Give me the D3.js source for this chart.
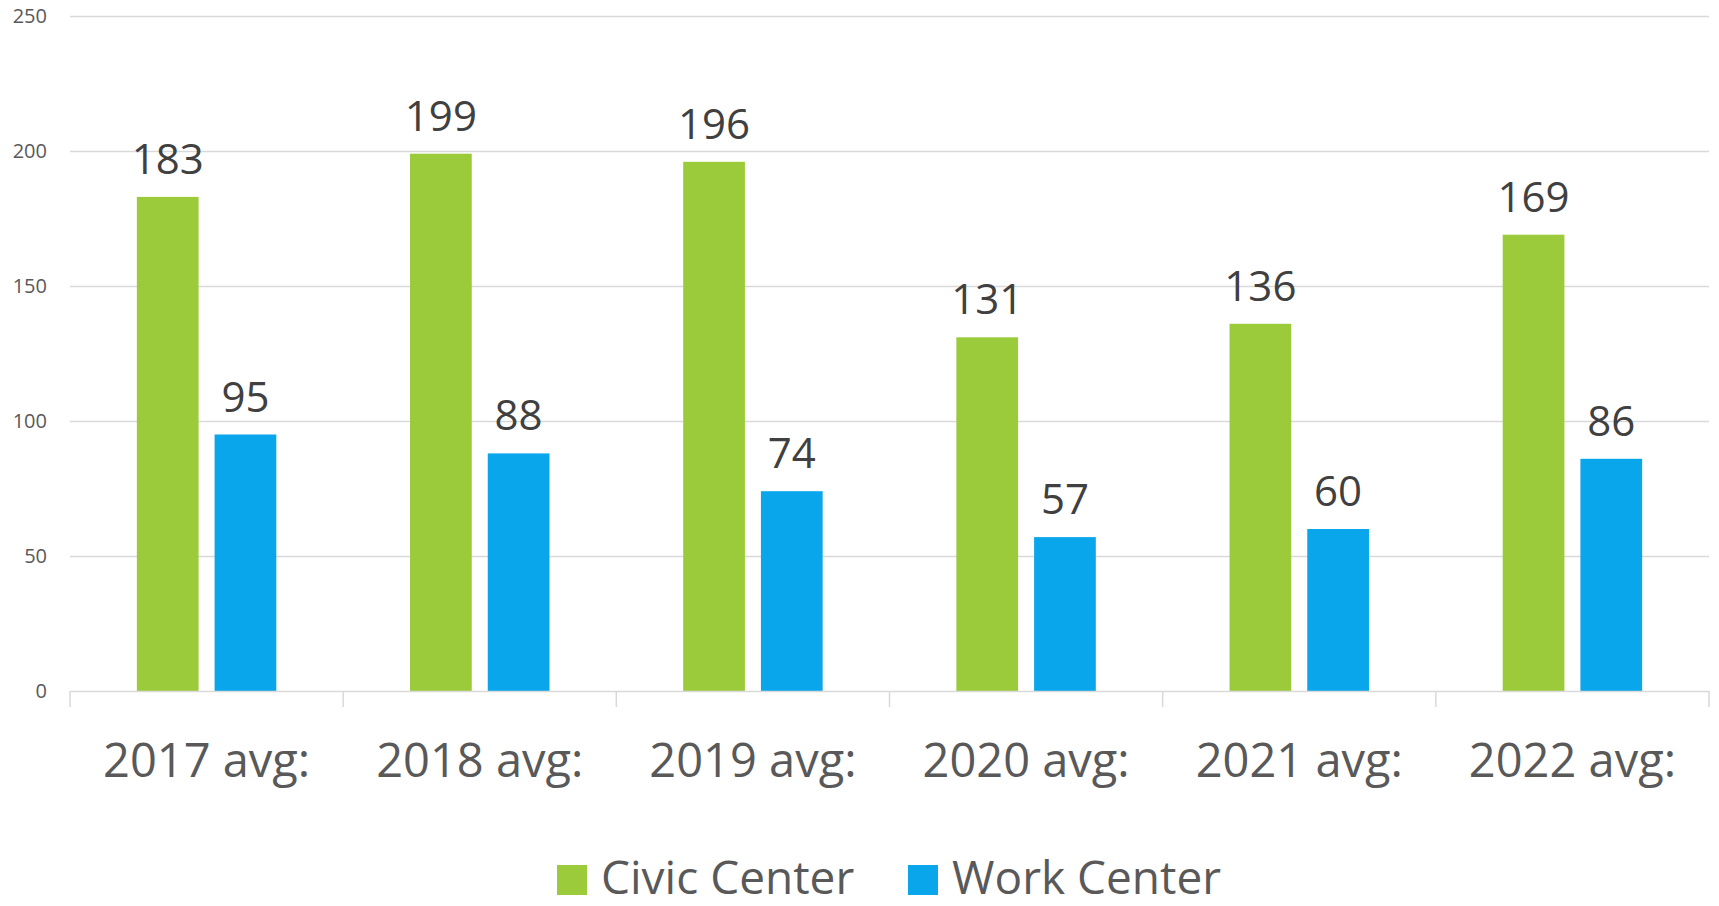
<!DOCTYPE html>
<html>
<head>
<meta charset="utf-8">
<script src="https://cdn.jsdelivr.net/npm/d3@7"></script>
<style>
  html, body { margin: 0; padding: 0; background: #fff; }
  svg { display: block; font-family: "Open Sans", "Liberation Sans", sans-serif; }
</style>
</head>
<body>
<svg id="chart" width="1719" height="906"></svg>
<script>
const categories = ["2017 avg:", "2018 avg:", "2019 avg:", "2020 avg:", "2021 avg:", "2022 avg:"];
const seriesNames = ["Civic Center", "Work Center"];
const civicCenter = [183, 199, 196, 131, 136, 169];
const workCenter = [95, 88, 74, 57, 60, 86];
const yTicks = [0, 50, 100, 150, 200, 250];
const colors = ["#9BCB3B", "#0AA6EC"];

const svg = d3.select("#chart");
const plotLeft = 70, plotRight = 1709;
const plotBottom = 691, plotTop = 16;

const x0 = d3.scaleBand().domain(categories).range([plotLeft, plotRight]).paddingInner(0).paddingOuter(0);
const x1 = d3.scaleBand().domain(seriesNames).range([0, x0.bandwidth()]).paddingInner(0.206).paddingOuter(0.86);
const y = d3.scaleLinear().domain([0, 250]).range([plotBottom, plotTop]);
const color = d3.scaleOrdinal().domain(seriesNames).range(colors);

const data = categories.map((c, i) => ({ cat: c, values: [
  { s: seriesNames[0], v: civicCenter[i] },
  { s: seriesNames[1], v: workCenter[i] }
]}));

// gridlines + y labels
const yAxis = d3.axisLeft(y).tickValues(yTicks).tickSize(-(plotRight - plotLeft)).tickPadding(23);
const gy = svg.append("g").attr("transform", `translate(${plotLeft},0)`).call(yAxis);
gy.select(".domain").remove();
gy.selectAll(".tick line").attr("stroke", "#D9D9D9").attr("stroke-width", 1.5)
  .filter(d => d === 0).remove();
gy.selectAll(".tick text").attr("fill", "#595959").style("font-size", "20px")
  .style("font-family", "'Open Sans', sans-serif");

// bars
const groups = svg.append("g").selectAll("g").data(data).join("g")
  .attr("transform", d => `translate(${x0(d.cat)},0)`);
groups.selectAll("rect").data(d => d.values).join("rect")
  .attr("x", d => x1(d.s))
  .attr("width", x1.bandwidth())
  .attr("y", d => y(d.v))
  .attr("height", d => y(0) - y(d.v))
  .attr("fill", d => color(d.s));

// data labels
groups.selectAll("text.lbl").data(d => d.values).join("text")
  .attr("class", "lbl")
  .attr("x", d => x1(d.s) + x1.bandwidth() / 2)
  .attr("y", d => y(d.v) - 23)
  .attr("text-anchor", "middle")
  .attr("fill", "#404040")
  .style("font-size", "42px")
  .text(d => d.v);

// x axis
const xAxis = d3.axisBottom(x0).tickSize(0).tickPadding(0);
const gx = svg.append("g").attr("transform", `translate(0,${plotBottom})`).call(xAxis);
gx.select(".domain").attr("stroke", "#D9D9D9").attr("stroke-width", 1.5);
gx.selectAll(".tick text").attr("fill", "#595959").style("font-size", "47px")
  .style("font-family", "'Open Sans', sans-serif")
  .attr("dy", null).attr("y", 86);
// category boundary tick marks
const bounds = categories.map(c => x0(c)).concat([x0.range()[1]]);
gx.selectAll("line.bound").data(bounds).join("line")
  .attr("class", "bound")
  .attr("x1", d => d).attr("x2", d => d)
  .attr("y1", 0).attr("y2", 16)
  .attr("stroke", "#D9D9D9").attr("stroke-width", 1.5);

// legend
const legend = svg.append("g");
const legendX = [557, 908];
seriesNames.forEach((s, i) => {
  const g = legend.append("g").attr("transform", `translate(${legendX[i]},865)`);
  g.append("rect").attr("width", 30).attr("height", 30).attr("fill", color(s));
  g.append("text").attr("x", 44).attr("y", 29).attr("fill", "#595959")
    .style("font-size", "46px").text(s);
});
</script>
</body>
</html>
